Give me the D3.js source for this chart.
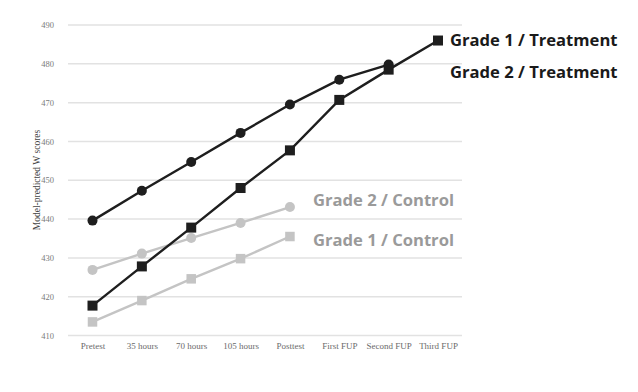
<!DOCTYPE html>
<html><head><meta charset="utf-8">
<script src="https://cdn.jsdelivr.net/npm/d3@7"></script>
<style>body{margin:0;background:#fff}</style>
</head><body>
<script>
const categories = ["Pretest","35 hours","70 hours","105 hours","Posttest","First FUP","Second FUP","Third FUP"];
const yTicks = [410,420,430,440,450,460,470,480,490];
const g1Treatment = [417.7,427.8,437.8,448.0,457.7,470.7,478.5,486.0];
const g2Treatment = [439.6,447.3,454.7,462.2,469.5,475.9,479.8];
const g2Control = [426.9,431.1,435.1,439.0,443.1];
const g1Control = [413.5,419.0,424.6,429.8,435.5];

const series = [
  {name:"Grade 2 / Control", values:g2Control, color:"#c4c4c4", shape:"circle", labelColor:"#9a9a9a", lx:313, ly:202},
  {name:"Grade 1 / Control", values:g1Control, color:"#c4c4c4", shape:"square", labelColor:"#9a9a9a", lx:313, ly:242},
  {name:"Grade 2 / Treatment", values:g2Treatment, color:"#1e1e1e", shape:"circle", labelColor:"#1a1a1a", lx:450, ly:74},
  {name:"Grade 1 / Treatment", values:g1Treatment, color:"#1e1e1e", shape:"square", labelColor:"#1a1a1a", lx:450, ly:42}
];

const W=638,H=392;
const svg=d3.select("body").append("svg").attr("width",W).attr("height",H);
const x=d3.scalePoint().domain(categories).range([92.5,438]);
const y=d3.scaleLinear().domain([410,490]).range([335.5,25]);
const serif="'Liberation Serif','DejaVu Serif',serif";

// grid
svg.append("g").selectAll("line").data(yTicks).join("line")
  .attr("x1",68).attr("x2",462).attr("y1",d=>y(d)).attr("y2",d=>y(d))
  .attr("stroke","#e2e2e2").attr("stroke-width",1.5);

// y axis
const ya=svg.append("g").attr("transform","translate(54,0)")
  .call(d3.axisLeft(y).tickValues(yTicks).tickSize(0).tickPadding(0));
ya.select(".domain").remove();
ya.selectAll("text").attr("font-family",serif).attr("font-size",8.5).attr("fill","#7a7a7a");

// x axis
const xa=svg.append("g").attr("transform","translate(0,343)")
  .call(d3.axisBottom(x).tickSize(0).tickPadding(0));
xa.select(".domain").remove();
xa.selectAll("text").attr("font-family",serif).attr("font-size",9).attr("fill","#6a6a6a");

// y label
svg.append("text").attr("transform","translate(38,180) rotate(-90)")
  .attr("text-anchor","middle").attr("dominant-baseline","middle")
  .attr("font-family",serif).attr("font-size",9.5).attr("fill","#444")
  .text("Model-predicted W scores");

const line=d3.line().x((d,i)=>x(categories[i])).y(d=>y(d));
series.forEach(s=>{
  const g=svg.append("g");
  g.append("path").datum(s.values).attr("d",line).attr("fill","none")
    .attr("stroke",s.color).attr("stroke-width",2.4);
  if(s.shape==="circle"){
    g.selectAll("circle").data(s.values).join("circle")
      .attr("cx",(d,i)=>x(categories[i])).attr("cy",d=>y(d)).attr("r",5).attr("fill",s.color);
  } else {
    const sz = s.color==="#1e1e1e"?10:9.5;
    g.selectAll("rect").data(s.values).join("rect")
      .attr("x",(d,i)=>x(categories[i])-sz/2).attr("y",d=>y(d)-sz/2)
      .attr("width",sz).attr("height",sz).attr("fill",s.color);
  }
  svg.append("text").attr("x",s.lx).attr("y",s.ly).attr("dominant-baseline","middle")
    .attr("font-family","'Open Sans',sans-serif").attr("font-weight","bold").attr("font-size",16.6)
    .attr("fill",s.labelColor).text(s.name);
});
</script>
</body></html>
